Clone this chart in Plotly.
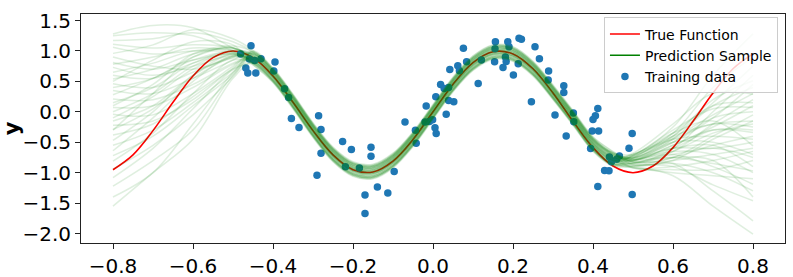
import plotly.graph_objects as go

# ---- True function ----
true_x = [-0.8, -0.75, -0.7, -0.65, -0.6, -0.55, -0.5, -0.45, -0.4, -0.35, -0.3, -0.25, -0.2,
          -0.15, -0.1, -0.05, 0.0, 0.05, 0.1, 0.15, 0.2, 0.25, 0.3, 0.35, 0.4, 0.45, 0.5,
          0.55, 0.6, 0.65, 0.7, 0.75, 0.8]
true_y = [-0.951, -0.707, -0.309, 0.156, 0.588, 0.891, 1.0, 0.891, 0.588, 0.156, -0.309, -0.707,
          -0.951, -0.988, -0.809, -0.454, 0.0, 0.454, 0.809, 0.988, 0.951, 0.707, 0.309, -0.156,
          -0.588, -0.891, -1.0, -0.891, -0.588, -0.156, 0.309, 0.707, 0.951]

# ---- Training data ----
train_x = [-0.481, -0.455, -0.468, -0.463, -0.443, -0.446, -0.459, -0.430, -0.395, -0.398,
           -0.371, -0.361, -0.354, -0.335, -0.286, -0.280, -0.280, -0.290, -0.226, -0.204,
           -0.219, -0.184, -0.155, -0.155, -0.139, -0.170, -0.170, -0.113, -0.097, -0.070,
           -0.042, -0.044, -0.017, -0.020, -0.009, -0.001, 0.005, 0.008, 0.007, 0.019,
           0.028, 0.039, 0.039, 0.052, 0.033, 0.042, 0.062, 0.066, 0.076, 0.084,
           0.113, 0.121, 0.156, 0.155, 0.154, 0.175, 0.181, 0.187, 0.190, 0.201,
           0.215, 0.221, 0.213, 0.255, 0.266, 0.246, 0.289, 0.288, 0.305, 0.327,
           0.327, 0.333, 0.351, 0.352, 0.412, 0.406, 0.400, 0.414, 0.398, 0.394,
           0.441, 0.459, 0.466, 0.429, 0.440, 0.412, 0.498, 0.490, 0.498, 0.183, 0.446]
train_y = [0.949, 1.086, 0.719, 0.637, 0.637, 0.842, 0.867, 0.870, 0.817, 0.669,
           0.377, 0.234, -0.109, -0.257, -0.066, -0.289, -0.679, -1.041, -0.487, -0.618,
           -0.901, -0.921, -0.581, -0.729, -1.234, -1.365, -1.671, -1.332, -0.980, -0.169,
           -0.518, -0.301, 0.094, -0.169, -0.161, -0.132, -0.260, -0.355, 0.247, 0.447,
           0.382, 0.398, 0.184, 0.164, -0.041, 0.697, 0.755, 0.674, 1.044, 0.821,
           0.467, 0.850, 1.153, 1.038, 0.822, 0.727, 0.900, 1.151, 1.069, 0.605,
           1.209, 1.192, 0.789, 1.069, 0.872, 0.164, 0.669, 0.521, -0.054, 0.428,
           0.319, -0.396, -0.018, -0.164, 0.056, -0.063, -0.128, -0.317, -0.317, -0.602,
           -0.743, -0.781, -0.725, -0.962, -0.970, -1.225, -0.355, -0.600, -1.360, 0.826, -0.819]

# ---- Prediction samples ----
left_x = [-0.8, -0.7, -0.6, -0.5]
mid_x = [-0.45, -0.4, -0.35, -0.3, -0.25, -0.2, -0.15, -0.1, -0.05, 0.0, 0.05, 0.1, 0.15,
         0.2, 0.25, 0.3, 0.35, 0.4, 0.45]
right_x = [0.5, 0.6, 0.7, 0.8]

# centre of the green bundle where training data exists
mid_y = [0.89, 0.60, 0.17, -0.30, -0.70, -0.94, -0.98, -0.80, -0.45, 0.0, 0.45, 0.80, 0.98,
         0.95, 0.71, 0.32, -0.10, -0.53, -0.77]

left_y = [
    [1.28, 1.42, 1.38, 1.05], [1.25, 1.30, 1.25, 1.00], [1.17, 1.20, 1.30, 1.15],
    [1.11, 1.05, 1.10, 1.05], [1.06, 0.95, 1.00, 0.98], [0.96, 1.10, 1.35, 1.20],
    [0.81, 0.70, 0.85, 0.95], [0.78, 0.90, 1.05, 1.00], [0.73, 0.60, 0.75, 0.92],
    [0.65, 0.80, 1.00, 1.02], [0.60, 0.55, 0.80, 0.95], [0.54, 0.70, 0.95, 1.05],
    [0.46, 0.40, 0.65, 0.90], [0.40, 0.55, 0.90, 1.05], [0.35, 0.30, 0.55, 0.85],
    [0.28, 0.55, 0.85, 0.98], [0.21, 0.20, 0.45, 0.80], [0.15, 0.40, 0.80, 1.00],
    [0.07, 0.10, 0.40, 0.78], [0.00, 0.30, 0.75, 0.97], [-0.04, -0.05, 0.30, 0.75],
    [-0.10, 0.25, 0.70, 0.95], [-0.15, 0.10, 0.60, 0.92], [-0.22, -0.15, 0.20, 0.70],
    [-0.29, 0.05, 0.55, 0.90], [-0.38, -0.20, 0.25, 0.72], [-0.47, 0.00, 0.60, 0.95],
    [-0.55, -0.30, 0.15, 0.65], [-0.64, -0.10, 0.50, 0.92], [-0.72, -0.40, 0.10, 0.62],
    [-0.81, -0.35, 0.30, 0.85], [-0.94, -0.55, -0.05, 0.58], [-1.08, -0.60, 0.05, 0.70],
    [-1.22, -0.80, -0.30, 0.60], [-1.40, -1.00, -0.20, 0.65], [-1.55, -1.00, -0.45, 0.55],
    [0.90, 0.75, 0.70, 0.88], [0.50, 0.85, 1.15, 1.10], [0.10, 0.45, 0.95, 1.08],
    [-0.30, 0.30, 0.90, 1.05],
]
mid_shift = [0.05, -0.08, 0.09, -0.03, 0.0, 0.12, -0.10, 0.03, -0.06, 0.07, -0.12, 0.01,
             0.06, -0.04, 0.10, -0.09, 0.0, 0.04, -0.02, -0.07, 0.09, -0.03, 0.06, -0.10,
             0.03, 0.08, -0.06, 0.02, -0.04, 0.11, -0.09, 0.05, 0.0, -0.03, 0.07, -0.08,
             0.02, -0.11, 0.09, -0.01]
right_y = [
    [-0.70, -0.25, 0.60, 1.28], [-0.72, -0.35, 0.40, 0.90], [-0.75, -0.40, 0.20, 0.51],
    [-0.80, -0.45, 0.10, 0.40], [-0.68, -0.20, 0.30, 0.29], [-0.82, -0.60, 0.00, 0.60],
    [-0.76, -0.35, 0.10, 0.15], [-0.85, -0.65, -0.20, 0.20], [-0.72, -0.30, 0.05, 0.07],
    [-0.78, -0.50, -0.10, 0.00], [-0.90, -0.80, -0.45, -0.15], [-0.74, -0.40, -0.20, -0.15],
    [-0.80, -0.55, -0.30, -0.34], [-0.88, -0.75, -0.55, -0.40], [-0.70, -0.35, -0.15, -0.56],
    [-0.84, -0.70, -0.60, -0.75], [-0.92, -0.90, -0.80, -0.65], [-0.76, -0.60, -0.55, -0.90],
    [-0.80, -0.75, -0.85, -0.97], [-0.92, -1.00, -1.05, -1.10], [-0.78, -0.70, -0.90, -1.19],
    [-0.86, -0.90, -1.20, -1.46], [-0.82, -0.85, -1.30, -1.79], [-0.90, -1.05, -1.55, -2.01],
    [-0.72, -0.45, -0.40, -0.45], [-0.79, -0.55, -0.25, 0.10], [-0.84, -0.65, -0.35, -0.20],
    [-0.75, -0.50, -0.10, 0.45], [-0.70, -0.40, 0.15, 0.75], [-0.87, -0.80, -0.70, -0.60],
    [-0.81, -0.65, -0.70, -1.00], [-0.92, -0.95, -0.95, -0.80], [-0.77, -0.50, -0.50, -0.70],
    [-0.73, -0.43, -0.05, 0.30], [-0.83, -0.75, -0.40, -0.05], [-0.89, -0.85, -1.00, -1.30],
    [-0.79, -0.60, -0.30, -0.30], [-0.85, -0.75, -0.80, -1.40], [-0.76, -0.45, -0.20, -0.25],
    [-0.80, -0.60, -0.60, -0.50],
]

x_ticks = [-0.8, -0.6, -0.4, -0.2, 0.0, 0.2, 0.4, 0.6, 0.8]
y_ticks = [1.5, 1.0, 0.5, 0.0, -0.5, -1.0, -1.5, -2.0]

FONT = "DejaVu Sans"
fig = go.Figure()

fig.add_trace(go.Scatter(x=true_x, y=true_y, mode="lines", name="True Function",
                         line=dict(color="#ff0000", width=1.6, shape="spline"),
                         legendrank=1))

fig.add_trace(go.Scatter(x=train_x, y=train_y, mode="markers", name="Training data",
                         marker=dict(color="#1f77b4", size=7.5, line=dict(width=0)),
                         legendrank=3))

sample_x = left_x + mid_x + right_x
for i in range(len(left_y)):
    ys = left_y[i] + [m + mid_shift[i] for m in mid_y] + right_y[i]
    fig.add_trace(go.Scatter(x=sample_x, y=ys, mode="lines", showlegend=False,
                             line=dict(color="green", width=1.5, shape="spline"),
                             opacity=0.12, hoverinfo="skip"))

# legend entry for the samples
fig.add_trace(go.Scatter(x=[None], y=[None], mode="lines", name="Prediction Sample",
                         line=dict(color="green", width=1.6), legendrank=2))

axis_common = dict(showline=True, linecolor="#222", linewidth=1, mirror=True,
                   ticks="outside", ticklen=5, tickwidth=1, tickcolor="#222",
                   showgrid=False, zeroline=False,
                   tickfont=dict(family=FONT, size=20, color="black"))

fig.update_xaxes(range=[-0.88, 0.88], tickvals=x_ticks, tickformat=".1f", **axis_common)
fig.update_yaxes(range=[-2.155, 1.607], tickvals=y_ticks, tickformat=".1f", **axis_common)

fig.add_annotation(text="<b>y</b>", xref="paper", yref="paper", x=-0.0985, y=0.5,
                   xanchor="center", yanchor="middle",
                   showarrow=False, textangle=-90,
                   font=dict(family=FONT, size=21, color="black"))

fig.update_layout(
    width=793, height=277,
    margin=dict(l=81, r=8, t=14, b=34, autoexpand=False),
    plot_bgcolor="white", paper_bgcolor="white",
    font=dict(family=FONT, color="black"),
    legend=dict(x=0.99, y=0.985, xanchor="right", yanchor="top",
                bgcolor="rgba(255,255,255,0.8)", bordercolor="#cccccc", borderwidth=1,
                font=dict(family=FONT, size=14, color="black"),
                itemwidth=30, tracegroupgap=0),
    showlegend=True,
)

fig.write_html("out.html", config={"displayModeBar": False},
               post_script="document.body.style.margin='0';")
